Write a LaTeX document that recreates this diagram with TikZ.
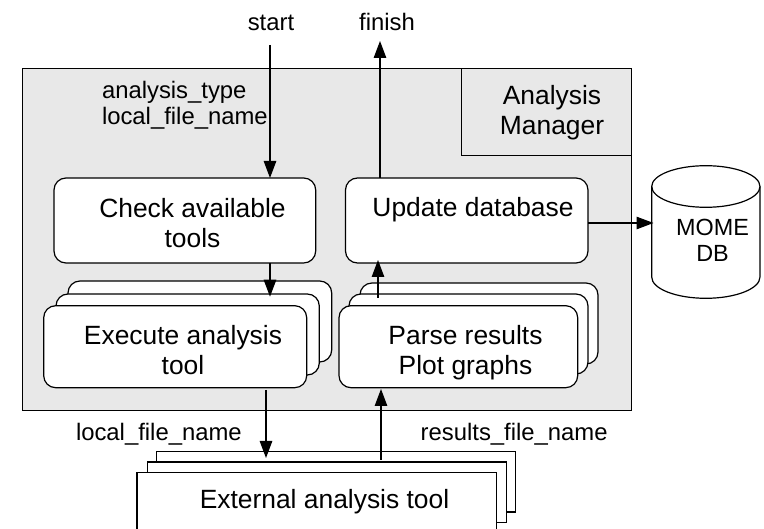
\documentclass[tikz,border=0pt]{standalone}
\usepackage{fontspec}
\setmainfont{Liberation Sans}
\usetikzlibrary{arrows.meta}
\definecolor{panel}{HTML}{E8E8E8}
\newcommand{\boxat}[6]{\node[#1,minimum width={(#5-#3)*1pt},minimum height={(#6-#4)*1pt}] (#2) at ({(#3+#5)/2},{(#4+#6)/2}) {};}
\tikzset{
  x=1pt,y=-1pt,
  every node/.style={inner sep=0pt,outer sep=0pt},
  solidline/.style={draw=black,line width=1.2pt},
  panelbox/.style={solidline,fill=panel,rectangle},
  toolbox/.style={solidline,fill=white,rectangle,rounded corners=12pt},
  extbox/.style={solidline,fill=white,rectangle},
  bigtext/.style={font=\fontsize{26.4}{30}\selectfont,align=center,anchor=center},
  smalltext/.style={font=\fontsize{23.85}{26.5}\selectfont,align=left},
  flow/.style={line width=1.2pt,-{Triangle[length=17pt,width=12.5pt]}},
}
\begin{document}
\begin{tikzpicture}
\useasboundingbox (0,0) rectangle (764,529);
% panel
\boxat{panelbox}{panel}{22.5}{68.5}{631.5}{410.5}
\boxat{panelbox}{mgr}{461.5}{68.5}{631.5}{155.5}
\node[bigtext] (mgrtext) at (552,114) {\strut Analysis\\Manager\strut};
% upper boxes
\boxat{toolbox}{check}{54}{178}{315.7}{263}
\node[bigtext] (checktext) at (192.5,227) {\strut Check available\\tools\strut};
\boxat{toolbox}{upd}{345.5}{178}{588}{263}
\node[bigtext,anchor=base] (updtext) at (473,217) {Update database};
% execute stack
\boxat{toolbox}{exC}{68}{281}{331.7}{362}
\boxat{toolbox}{exB}{56}{294}{319.3}{375}
\boxat{toolbox}{exA}{43.7}{305.7}{306.7}{387.7}
\node[bigtext] (extext) at (183,354) {\strut Execute analysis\\tool\strut};
% parse stack
\boxat{toolbox}{paC}{360}{283}{598}{364}
\boxat{toolbox}{paB}{349}{294}{588}{374}
\boxat{toolbox}{paA}{339}{305.7}{577.7}{387.7}
\node[bigtext] (patext) at (465.5,354) {\strut Parse results\\Plot graphs\strut};
% external stack
\boxat{extbox}{tlC}{156.7}{451.3}{515.7}{512}
\boxat{extbox}{tlB}{147.7}{462}{506.7}{522.3}
\node[fill=white,rectangle,minimum width=359.7pt,minimum height=56.7pt] (tlA) at (316.85,500.65) {};
\draw[solidline] (tlA.south west) -- (tlA.north west) -- (tlA.north east) -- (tlA.south east);
\node[bigtext,anchor=base] (tltext) at (324.5,509) {External analysis tool};
% database
\node[rectangle,minimum width=108.3pt,minimum height=132.6pt] (db) at (705.85,232) {};
\draw[solidline,fill=white] (db.west |- 0,186.5) -- (db.west |- 0,277) arc[start angle=180,end angle=360,x radius=54.15pt,y radius=21.3pt] -- (db.east |- 0,186.5) arc[start angle=0,end angle=180,x radius=54.15pt,y radius=20.8pt] -- cycle;
\draw[solidline] (db.west |- 0,186.5) arc[start angle=180,end angle=360,x radius=54.15pt,y radius=20.8pt];
\node[font=\fontsize{23.4}{26}\selectfont,align=center] (dbtext) at (712.5,243) {\strut MOME\\DB\strut};
% labels
\node[smalltext,anchor=base] (start) at (271,30.5) {start};
\node[smalltext,anchor=base] (finish) at (387,30.5) {finish};
\node[smalltext,anchor=west] (intext) at (102,106) {\strut analysis\_type\\local\_file\_name\strut};
\node[smalltext,anchor=base west] (lfn) at (76,441) {local\_file\_name};
\node[smalltext,anchor=base west] (rfn) at (420.7,441) {results\_file\_name};
% connectors
\coordinate (a1) at (270,45);
\draw[flow] (a1) -- (a1 |- check.north);
\coordinate (a2) at (270,296.7);
\draw[flow] (a2 |- check.south) -- (a2);
\coordinate (a3) at (380,41);
\draw[flow] (a3 |- upd.north) -- (a3);
\coordinate (a4) at (378,297.7);
\coordinate (a4t) at (378,260);
\draw[flow] (a4) -- (a4t);
\coordinate (a5) at (266,390);
\coordinate (a5t) at (266,458);
\draw[flow] (a5) -- (a5t);
\coordinate (a6) at (381,460);
\coordinate (a6t) at (381,389);
\draw[flow] (a6) -- (a6t);
\coordinate (a7) at (653.5,223);
\draw[flow] (a7 -| upd.east) -- (a7);
\end{tikzpicture}
\end{document}
